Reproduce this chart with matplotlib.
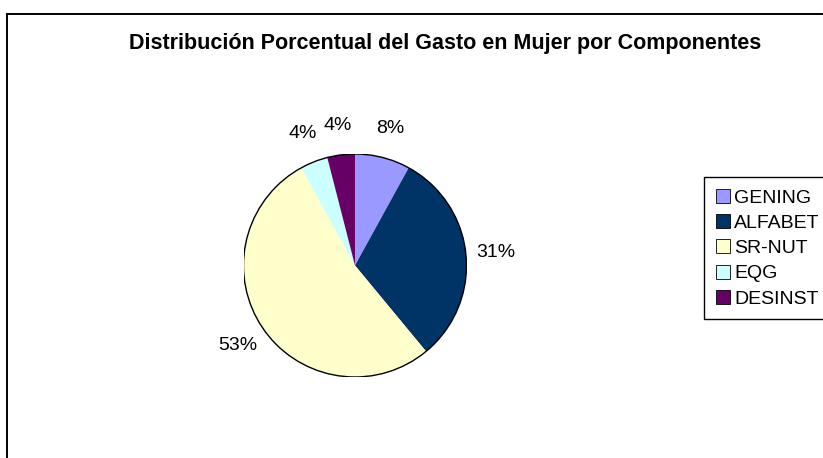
import matplotlib
matplotlib.use('Agg')
import matplotlib.pyplot as plt
from matplotlib.lines import Line2D
from matplotlib.patches import Circle

plt.rcParams['font.family'] = ['Liberation Sans', 'DejaVu Sans']

componentes = ['GENING', 'ALFABET', 'SR-NUT', 'EQG', 'DESINST']
porcentajes = [8, 31, 53, 4, 4]
colores = ['#9999FF', '#003366', '#FFFFCC', '#CCFFFF', '#660066']

W, H = 823, 458
fig = plt.figure(figsize=(W / 100, H / 100), dpi=100)

# pie placed by pixel centre / radius
cx, cy, r = 355, 265.5, 111.5
ax = fig.add_axes([(cx - r) / W, (H - cy - r) / H, 2 * r / W, 2 * r / H])
wedges, texts, autotexts = ax.pie(
    porcentajes, colors=colores, startangle=90, counterclock=False,
    autopct='%1.0f%%', pctdistance=1.27, radius=1,
    wedgeprops=dict(linewidth=0), textprops=dict(fontsize=14, color='black'))
ax.add_patch(Circle((0, 0), 1, fill=False, edgecolor='black', linewidth=1))
ax.set_xlim(-1, 1)
ax.set_ylim(-1, 1)
ax.set_aspect('equal')
for t in autotexts:
    t.set_clip_on(False)

fig.text(445 / W, 1 - 44 / H, 'Distribución Porcentual del Gasto en Mujer por Componentes',
         ha='center', va='center', fontsize=15.5, fontweight='bold')

# outer frame (only left and top visible)
fig.add_artist(Line2D([6.5 / W, 6.5 / W], [0, 1 - 14 / H], color='black', linewidth=1.4))
fig.add_artist(Line2D([6.5 / W, 822 / W], [1 - 14 / H, 1 - 14 / H], color='black', linewidth=1.4))

leg = fig.legend(wedges, componentes, loc='upper left',
                 bbox_to_anchor=(704 / W, 1 - 177 / H), fontsize=14,
                 handlelength=0.75, handleheight=0.75, handletextpad=0.2,
                 labelspacing=0.38, borderpad=0.6, borderaxespad=0,
                 fancybox=False, framealpha=1, edgecolor='black')
leg.get_frame().set_linewidth(1)
for h in leg.legend_handles:
    h.set_edgecolor('black')
    h.set_linewidth(0.6)

fig.savefig('out.png', dpi=100)
